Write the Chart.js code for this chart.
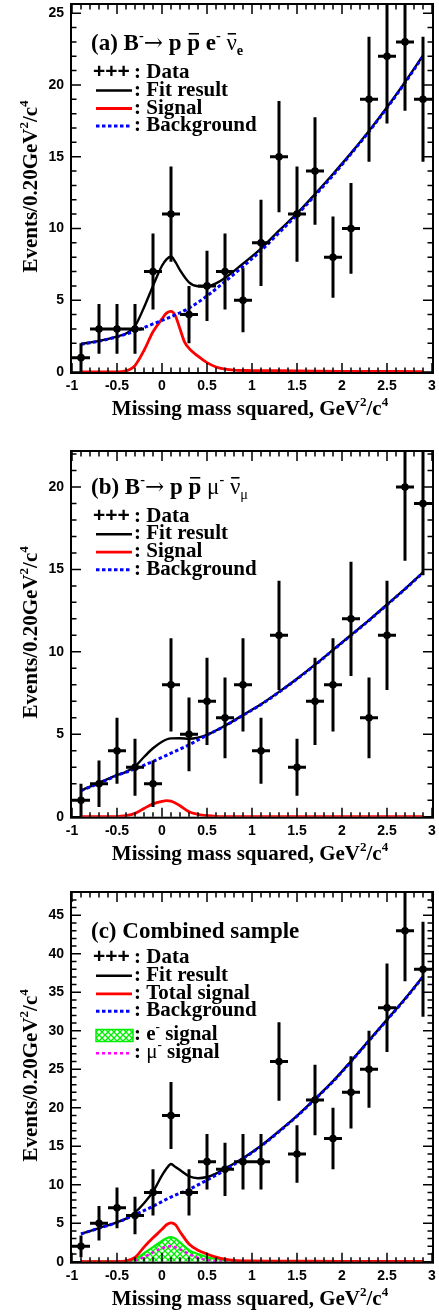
<!DOCTYPE html>
<html>
<head>
<meta charset="utf-8">
<script src="https://cdn.jsdelivr.net/npm/chart.js@4.4.1/dist/chart.umd.min.js"></script>
<style>
  html, body { margin: 0; padding: 0; background: #fff; }
  #wrap { position: relative; width: 439px; height: 1313px; overflow: hidden; }
  canvas { position: absolute; left: 0; }
</style>
</head>
<body>
<div id="wrap">
  <canvas id="cA" width="439" height="440" style="top:0px"></canvas>
  <canvas id="cB" width="439" height="440" style="top:447px"></canvas>
  <canvas id="cC" width="439" height="425" style="top:888px"></canvas>
</div>
<script>
/* ---------- data ---------- */
// bin centres (0.20 GeV^2/c^4 bins)
const binX = [-0.9, -0.7, -0.5, -0.3, -0.1, 0.1, 0.3, 0.5, 0.7, 0.9, 1.1, 1.3, 1.5, 1.7, 1.9, 2.1, 2.3, 2.5, 2.7, 2.9];

// events per bin
const countsA = [1, 3, 3, 3, 7, 11, 4, 6, 7, 5, 9, 15, 11, 14, 8, 10, 19, 22, 23, 19];
const countsB = [1, 2, 4, 3, 2, 8, 5, 7, 6, 8, 4, 11, 3, 7, 8, 12, 6, 11, 20, 19];
const countsC = [2, 5, 7, 6, 9, 19, 9, 13, 12, 13, 13, 26, 14, 21, 16, 22, 25, 33, 43, 38];

// background curves, sampled at binX
const bkgA = [1.93, 2.15, 2.45, 2.85, 3.35, 3.85, 4.45, 5.3, 6.3, 7.35, 8.45, 9.7, 10.95, 12.3, 13.7, 15.2, 16.75, 18.4, 20.15, 22.0];
const bkgB = [1.58, 2.03, 2.5, 2.9, 3.35, 3.85, 4.36, 4.95, 5.5, 6.15, 6.8, 7.55, 8.35, 9.2, 10.1, 11.0, 11.9, 12.85, 13.8, 14.8];
const bkgC = [3.6, 4.35, 5.1, 6.1, 7.2, 8.4, 9.4, 10.6, 11.9, 13.4, 15.0, 16.9, 18.9, 21.1, 23.4, 26.0, 28.7, 31.4, 34.1, 37.0];

// fit results
const fitXA = [-0.9, -0.7, -0.5, -0.4, -0.3, -0.2, -0.1, 0.0, 0.05, 0.1, 0.15, 0.2, 0.3, 0.4, 0.5, 0.6, 0.7, 0.9, 1.1, 1.3, 1.5, 1.7, 1.9, 2.1, 2.3, 2.5, 2.7, 2.9];
const fitA = [1.95, 2.17, 2.47, 2.68, 3.2, 4.5, 6.0, 7.4, 7.85, 8.05, 7.65, 7.1, 6.25, 5.97, 5.95, 6.18, 6.55, 7.55, 8.6, 9.85, 11.05, 12.4, 13.8, 15.25, 16.8, 18.45, 20.2, 22.05];
const fitXB = [-0.9, -0.7, -0.5, -0.4, -0.3, -0.2, -0.1, 0.0, 0.1, 0.2, 0.3, 0.4, 0.5, 0.7, 0.9, 1.1, 1.3, 1.5, 1.7, 1.9, 2.1, 2.3, 2.5, 2.7, 2.9];
const fitB = [1.6, 2.05, 2.52, 2.72, 3.05, 3.62, 4.15, 4.55, 4.75, 4.76, 4.73, 4.8, 4.97, 5.52, 6.17, 6.82, 7.57, 8.37, 9.22, 10.12, 11.02, 11.92, 12.87, 13.82, 14.82];
const fitXC = [-0.9, -0.7, -0.5, -0.4, -0.3, -0.2, -0.1, 0.0, 0.05, 0.1, 0.15, 0.2, 0.3, 0.4, 0.5, 0.6, 0.7, 0.8, 0.9, 1.1, 1.3, 1.5, 1.7, 1.9, 2.1, 2.3, 2.5, 2.7, 2.9];
const fitC = [3.62, 4.37, 5.12, 5.6, 6.4, 7.6, 9.1, 11.2, 12.1, 12.7, 12.3, 11.9, 11.1, 10.85, 11.0, 11.45, 12.1, 12.75, 13.45, 15.07, 16.96, 18.95, 21.15, 23.45, 26.05, 28.75, 31.45, 34.15, 37.05];

// signal shapes
const sigXA = [-0.9, -0.5, -0.4, -0.35, -0.3, -0.2, -0.1, 0.0, 0.05, 0.1, 0.15, 0.2, 0.25, 0.3, 0.4, 0.5, 0.6, 0.7, 0.8, 1.0, 1.5, 2.0, 2.9];
const sigA = [0, 0.01, 0.08, 0.2, 0.45, 1.5, 2.8, 3.7, 4.1, 4.22, 3.9, 3.0, 2.1, 1.65, 1.1, 0.65, 0.35, 0.2, 0.13, 0.1, 0.08, 0.05, 0.03];
const sigXB = [-0.9, -0.5, -0.4, -0.3, -0.2, -0.1, 0.0, 0.05, 0.1, 0.2, 0.3, 0.4, 0.5, 0.6, 0.8, 2.9];
const sigB = [0, 0.01, 0.06, 0.2, 0.5, 0.78, 0.93, 0.97, 0.95, 0.66, 0.3, 0.14, 0.06, 0.02, 0, 0];
const sigXC = [-0.9, -0.5, -0.4, -0.3, -0.2, -0.1, 0.0, 0.05, 0.1, 0.15, 0.2, 0.3, 0.4, 0.5, 0.6, 0.7, 0.8, 1.0, 1.5, 2.0, 2.9];
const sigC = [0, 0.02, 0.1, 0.55, 1.9, 3.1, 4.2, 4.8, 5.05, 4.8, 3.9, 2.3, 1.5, 1.0, 0.6, 0.32, 0.17, 0.1, 0.07, 0.05, 0.04];
const eSigC = [0, 0.01, 0.05, 0.3, 1.1, 1.9, 2.7, 3.05, 3.2, 3.0, 2.5, 1.5, 1.0, 0.6, 0.35, 0.2, 0.12, 0.08, 0.06, 0.04, 0.03];
const muXC = [-0.9, -0.4, -0.3, -0.2, -0.1, 0.0, 0.1, 0.2, 0.3, 0.4, 0.5, 0.6, 0.7, 0.8, 2.9];
const muSigC = [0, 0.02, 0.15, 0.6, 1.2, 1.75, 2.0, 1.6, 1.0, 0.5, 0.22, 0.08, 0.02, 0, 0];

const xTicks = [-1, -0.5, 0, 0.5, 1, 1.5, 2, 2.5, 3];

/* ---------- helpers ---------- */
const SERIF = '"Liberation Serif", "Times New Roman", serif';
const SANS = '"Liberation Sans", Arial, sans-serif';
const pts = (xs, ys) => xs.map((x, i) => ({ x, y: ys[i] }));

function makeHatch() {
  const c = document.createElement('canvas');
  c.width = 6; c.height = 6;
  const g = c.getContext('2d');
  g.strokeStyle = '#00ee00';
  g.lineWidth = 1.3;
  g.beginPath();
  g.moveTo(-1, -1); g.lineTo(7, 7);
  g.moveTo(7, -1); g.lineTo(-1, 7);
  g.stroke();
  return g.createPattern(c, 'repeat');
}
const hatch = makeHatch();

// text with sup/sub/overbar pieces
function rich(ctx, x, y, parts, size, draw = true) {
  let cx = x;
  for (const [txt, st = ''] of parts) {
    const small = /sup|sub/.test(st);
    const fs = small ? size * 0.62 : size;
    const fam = /sym/.test(st) ? `"DejaVu Serif", ${SERIF}` : SERIF;
    ctx.font = `${/thin/.test(st) ? 'normal' : 'bold'} ${fs}px ${fam}`;
    const dy = /sup/.test(st) ? -size * 0.42 : /sub/.test(st) ? size * 0.22 : 0;
    const w = ctx.measureText(txt).width;
    if (draw) {
      ctx.fillText(txt, cx, y + dy);
      if (/bar/.test(st)) ctx.fillRect(cx + w * 0.12, y - size * 0.74, w * 0.8, 1.6);
    }
    cx += w;
  }
  return cx - x;
}

const xTitle = [['Missing mass squared, GeV'], ['2', 'sup'], ['/c'], ['4', 'sup']];
const yTitle = [['Events/0.20GeV'], ['2', 'sup'], ['/c'], ['4', 'sup']];

/* ---------- plugins ---------- */
const errorBars = {
  id: 'errorBars',
  afterDatasetsDraw(chart) {
    const { ctx, chartArea: a, scales: { x, y } } = chart;
    const ds = chart.data.datasets.find(d => d.isData);
    ctx.save();
    ctx.beginPath();
    ctx.rect(a.left, a.top, a.right - a.left, a.bottom - a.top);
    ctx.clip();
    ctx.strokeStyle = '#000';
    ctx.lineWidth = 3;
    ctx.beginPath();
    ds.data.forEach(p => {
      const err = Math.sqrt(p.y);
      const px = x.getPixelForValue(p.x), py = y.getPixelForValue(p.y);
      ctx.moveTo(px, y.getPixelForValue(p.y - err));
      ctx.lineTo(px, y.getPixelForValue(p.y + err));
      ctx.moveTo(x.getPixelForValue(p.x - 0.1), py);
      ctx.lineTo(x.getPixelForValue(p.x + 0.1), py);
    });
    ctx.stroke();
    ctx.restore();
  }
};

function framePlugin(panel) {
  return {
    id: 'frame',
    afterDraw(chart) {
      const { ctx, chartArea: a, scales: { x, y } } = chart;
      ctx.save();
      // ticks, pointing inwards on all four sides
      ctx.strokeStyle = '#000';
      ctx.lineWidth = 1.5;
      ctx.beginPath();
      for (let i = -10; i <= 30; i++) {
        const px = x.getPixelForValue(i / 10);
        const len = i % 5 === 0 ? 9 : 4.5;
        ctx.moveTo(px, a.bottom); ctx.lineTo(px, a.bottom - len);
        ctx.moveTo(px, a.top); ctx.lineTo(px, a.top + len);
      }
      for (let v = 0; v <= y.max; v++) {
        const py = y.getPixelForValue(v);
        const len = v % 5 === 0 ? 9 : 4.5;
        ctx.moveTo(a.left, py); ctx.lineTo(a.left + len, py);
        ctx.moveTo(a.right, py); ctx.lineTo(a.right - len, py);
      }
      ctx.stroke();
      ctx.lineWidth = 2;
      ctx.strokeRect(a.left - 1, a.top - 1, a.right - a.left + 2, a.bottom - a.top + 2);

      ctx.fillStyle = '#000';
      ctx.textBaseline = 'alphabetic';
      ctx.textAlign = 'left';

      // axis titles
      const w = rich(ctx, 0, 0, xTitle, 21, false);
      rich(ctx, (a.left + a.right) / 2 - 2 - w / 2, a.bottom + 43, xTitle, 21);
      ctx.save();
      ctx.translate(37, (a.top + a.bottom) / 2 - 2);
      ctx.rotate(-Math.PI / 2);
      const wy = rich(ctx, 0, 0, yTitle, 21, false);
      rich(ctx, -wy / 2, 0, yTitle, 21);
      ctx.restore();

      // panel label
      rich(ctx, 91, panel.labelY, panel.label, 23);

      // legend
      panel.legend.forEach(e => {
        const b = e.y;
        if (e.kind === 'data') {
          ctx.font = `bold 21px ${SANS}`;
          ctx.fillText('+++', 93, b);
        } else if (e.kind === 'box') {
          ctx.fillStyle = hatch;
          ctx.fillRect(96, b - 10.5, 37, 12);
          ctx.strokeStyle = '#00ee00';
          ctx.lineWidth = 1.5;
          ctx.strokeRect(96, b - 10.5, 37, 12);
          ctx.fillStyle = '#000';
        } else {
          ctx.strokeStyle = e.color;
          ctx.lineWidth = e.width;
          ctx.setLineDash(e.dash || []);
          ctx.beginPath();
          ctx.moveTo(96, b - 5); ctx.lineTo(132, b - 5);
          ctx.stroke();
          ctx.setLineDash([]);
        }
        rich(ctx, 134, b, e.text, 21);
      });
      ctx.restore();
    }
  };
}

/* ---------- panels ---------- */
const bkgStyle = { borderColor: '#0000ff', borderWidth: 3, borderDash: [3.5, 2.5] };
const fitStyle = { borderColor: '#000', borderWidth: 2.4 };
const sigStyle = { borderColor: '#ff0000', borderWidth: 2.8 };

const legendBase = (y0, sigName) => [
  { kind: 'data', y: y0, text: [[': Data']] },
  { kind: 'line', y: y0 + 17.5, color: '#000', width: 2.4, text: [[': Fit result']] },
  { kind: 'line', y: y0 + 35.5, color: '#ff0000', width: 2.8, text: [[': ' + sigName]] },
  { kind: 'line', y: y0 + 53, color: '#0000ff', width: 3, dash: [3.5, 2.5], text: [[': Background']] }
];

const legendC = legendBase(75.3, 'Total signal').concat([
  { kind: 'box', y: 152, text: [[': e'], ['-', 'sup'], [' signal']] },
  { kind: 'line', y: 170.3, color: '#ff00ff', width: 2.5, dash: [3, 3], text: [[': '], ['\u03bc', 'thin'], ['-', 'sup'], [' signal']] }
]);

const arrow = ['\u2192', 'thin sym'];

const panels = [
  {
    id: 'cA', ymax: 25.57, xAxisH: 68,
    counts: countsA,
    curves: [
      { data: pts(binX, bkgA), order: 1, ...bkgStyle },
      { data: pts(fitXA, fitA), order: 2, ...fitStyle },
      { data: pts(sigXA, sigA), order: 3, ...sigStyle }
    ],
    labelY: 50,
    label: [['(a) B'], ['-', 'sup'], arrow, [' p '], ['p', 'bar'], [' e'], ['-', 'sup'], [' '], ['\u03bd', 'thin bar'], ['e', 'sub']],
    legend: legendBase(78, 'Signal')
  },
  {
    id: 'cB', ymax: 22.12, xAxisH: 70.3,
    counts: countsB,
    curves: [
      { data: pts(binX, bkgB), order: 1, ...bkgStyle },
      { data: pts(fitXB, fitB), order: 2, ...fitStyle },
      { data: pts(sigXB, sigB), order: 3, ...sigStyle }
    ],
    labelY: 47,
    label: [['(b) B'], ['-', 'sup'], arrow, [' p '], ['p', 'bar'], [' '], ['\u03bc', 'thin'], ['-', 'sup'], [' '], ['\u03bd', 'thin bar'], ['\u03bc', 'sub thin']],
    legend: legendBase(74.7, 'Signal')
  },
  {
    id: 'cC', ymax: 47.9, xAxisH: 51.3,
    counts: countsC,
    curves: [
      { data: pts(binX, bkgC), order: 1, ...bkgStyle },
      { data: pts(fitXC, fitC), order: 2, ...fitStyle },
      { data: pts(sigXC, sigC), order: 3, ...sigStyle },
      { data: pts(muXC, muSigC), order: 4, borderColor: '#ff00ff', borderWidth: 2.5, borderDash: [3, 3] },
      { data: pts(sigXC, eSigC), order: 5, borderColor: '#00ee00', borderWidth: 2.2, fill: 'origin', backgroundColor: hatch }
    ],
    labelY: 50.3,
    label: [['(c) Combined sample']],
    legend: legendC
  }
];

panels.forEach(p => {
  const ctx = document.getElementById(p.id).getContext('2d');
  new Chart(ctx, {
    type: 'line',
    data: {
      datasets: [
        {
          isData: true,
          data: pts(binX, p.counts),
          showLine: false,
          pointRadius: 3.8,
          pointBackgroundColor: '#000',
          pointBorderWidth: 0,
          order: 0
        },
        ...p.curves.map(c => ({
          pointRadius: 0,
          cubicInterpolationMode: 'monotone',
          fill: false,
          ...c
        }))
      ]
    },
    options: {
      responsive: false,
      animation: false,
      devicePixelRatio: 1,
      layout: { padding: { top: 5, right: 7, left: 0, bottom: 0 } },
      plugins: { legend: { display: false }, tooltip: { enabled: false } },
      scales: {
        x: {
          type: 'linear', min: -1, max: 3,
          grid: { display: false, drawTicks: false }, border: { display: false },
          afterBuildTicks: s => { s.ticks = xTicks.map(v => ({ value: v })); },
          afterFit: s => { s.height = p.xAxisH; s.paddingLeft = 0; s.paddingRight = 0; },
          ticks: { padding: 6, color: '#000', font: { family: SANS, size: 14, weight: 'bold' }, callback: v => String(v), maxRotation: 0, autoSkip: false }
        },
        y: {
          min: 0, max: p.ymax,
          grid: { display: false, drawTicks: false }, border: { display: false },
          afterBuildTicks: s => {
            const t = [];
            for (let v = 0; v <= s.max; v += 5) t.push({ value: v });
            s.ticks = t;
          },
          afterFit: s => { s.width = 72; s.paddingTop = 0; s.paddingBottom = 0; },
          ticks: { padding: 8, color: '#000', font: { family: SANS, size: 14, weight: 'bold' }, callback: v => String(v) }
        }
      }
    },
    plugins: [errorBars, framePlugin(p)]
  });
});
</script>
</body>
</html>
